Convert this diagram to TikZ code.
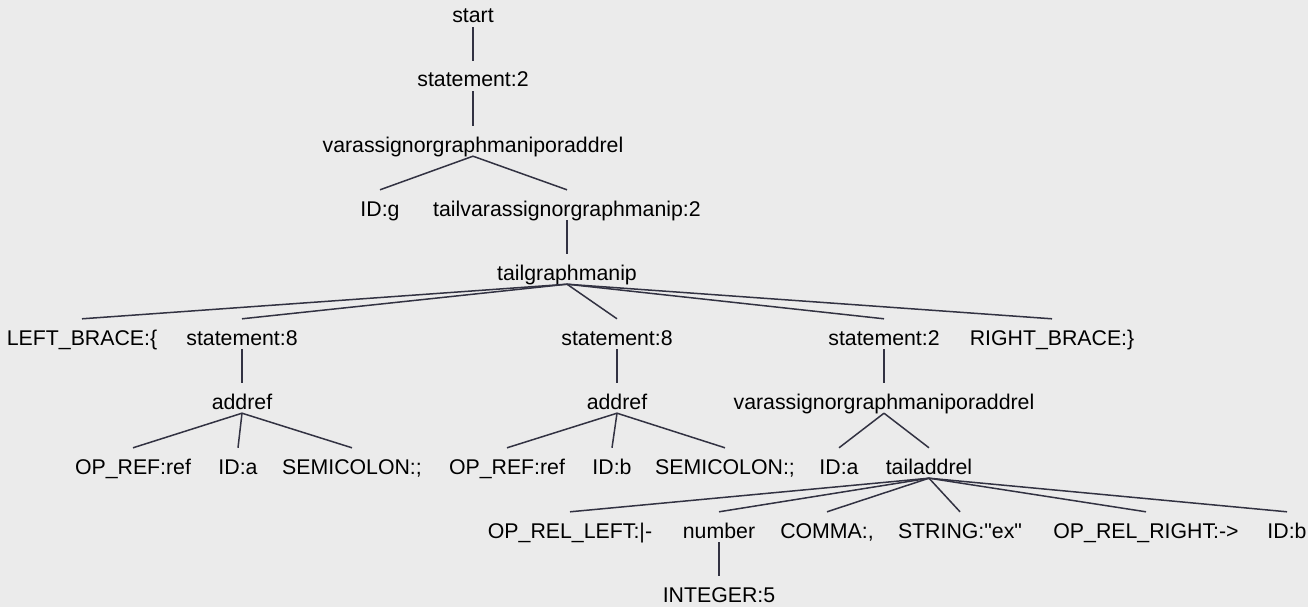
\documentclass[tikz,border=0pt]{standalone}
\usepackage{fontspec}
\setmainfont{Liberation Sans}[Ligatures=TeXOff]
\definecolor{bggray}{RGB}{235,235,235}
\definecolor{branchgray}{RGB}{50,50,66}
\tikzset{
    tn/.style={anchor=base, inner sep=0pt, text height=26pt, text depth=4pt,
        font=\fontsize{21.3}{25}\selectfont},
    branch/.style={draw=branchgray, line width=1.5pt}
}
\begin{document}
\begin{tikzpicture}[x=1pt, y=-1pt]
    \fill [bggray] (0,0) rectangle (1308,607);
    \useasboundingbox (0,0) rectangle (1308,607);

    \node [tn] (start) at (473,23) {start};
    \node [tn] (stmt) at (473,87) {statement:2};
    \node [tn] (vag) at (473,152) {varassignorgraphmaniporaddrel\hspace{22pt}};

    \node [tn] (idg) at (380,216) {ID:g};
    \node [tn] (tvg) at (567,216) {tailvarassignorgraphmanip:2\hspace{22pt}};
    \node [tn] (tgm) at (567,280) {tailgraphmanip\hspace{12pt}};

    \node [tn] (lb) at (82,345) {LEFT\_BRACE:\{};
    \node [tn] (sa) at (242,345) {statement:8};
    \node [tn] (sb) at (617,345) {statement:8};
    \node [tn] (sc) at (884,345) {statement:2};
    \node [tn] (rb) at (1052,345) {RIGHT\_BRACE:\}};

    \node [tn] (ara) at (242,409) {addref};
    \node [tn] (arb) at (617,409) {addref};
    \node [tn] (vab) at (884,409) {varassignorgraphmaniporaddrel\hspace{22pt}};

    \node [tn] (ora) at (133,474) {OP\_REF:ref};
    \node [tn] (ida) at (238,474) {ID:a};
    \node [tn] (sca) at (352,474) {SEMICOLON:;};
    \node [tn] (orb) at (507,474) {OP\_REF:ref};
    \node [tn] (idb) at (612,474) {ID:b};
    \node [tn] (scb) at (725,474) {SEMICOLON:;};
    \node [tn] (idc) at (839,474) {ID:a};
    \node [tn] (tar) at (929,474) {tailaddrel};

    \node [tn] (rl) at (570,538) {OP\_REL\_LEFT:|-};
    \node [tn] (num) at (719,538) {number};
    \node [tn] (cma) at (827,538) {COMMA:,};
    \node [tn] (str) at (960,538) {STRING:"ex"};
    \node [tn] (rr) at (1146,538) {OP\_REL\_RIGHT:->};
    \node [tn] (idd) at (1287,538) {ID:b};

    \node [tn] (int) at (719,602) {INTEGER:5};

    \draw [branch] (start.south) -- (stmt.north);
    \draw [branch] (stmt.south) -- (vag.north);
    \draw [branch] (vag.south) -- (idg.north);
    \draw [branch] (vag.south) -- (tvg.north);
    \draw [branch] (tvg.south) -- (tgm.north);

    \draw [branch] (tgm.south) -- (lb.north);
    \draw [branch] (tgm.south) -- (sa.north);
    \draw [branch] (tgm.south) -- (sb.north);
    \draw [branch] (tgm.south) -- (sc.north);
    \draw [branch] (tgm.south) -- (rb.north);

    \draw [branch] (sa.south) -- (ara.north);
    \draw [branch] (sb.south) -- (arb.north);
    \draw [branch] (sc.south) -- (vab.north);

    \draw [branch] (ara.south) -- (ora.north);
    \draw [branch] (ara.south) -- (ida.north);
    \draw [branch] (ara.south) -- (sca.north);
    \draw [branch] (arb.south) -- (orb.north);
    \draw [branch] (arb.south) -- (idb.north);
    \draw [branch] (arb.south) -- (scb.north);
    \draw [branch] (vab.south) -- (idc.north);
    \draw [branch] (vab.south) -- (tar.north);

    \draw [branch] (tar.south) -- (rl.north);
    \draw [branch] (tar.south) -- (num.north);
    \draw [branch] (tar.south) -- (cma.north);
    \draw [branch] (tar.south) -- (str.north);
    \draw [branch] (tar.south) -- (rr.north);
    \draw [branch] (tar.south) -- (idd.north);

    \draw [branch] (num.south) -- (int.north);
\end{tikzpicture}
\end{document}
